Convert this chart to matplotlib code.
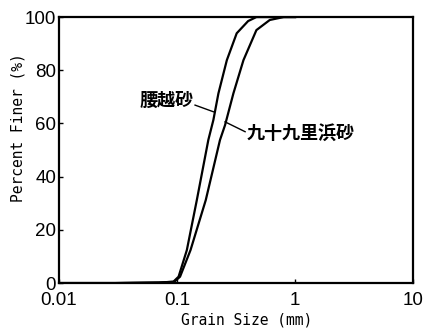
import matplotlib
matplotlib.use('Agg')
from matplotlib import pyplot as plt

# grain size distribution curves
size_koshigoe = [0.01, 0.03, 0.07, 0.093, 0.103, 0.121, 0.147, 0.184, 0.203,
                 0.224, 0.264, 0.32, 0.40, 0.47, 0.6, 1.0]
pct_koshigoe = [0, 0, 0.2, 0.5, 2.4, 12.4, 31.2, 53.8, 61.3,
                71.3, 83.8, 93.9, 98.5, 100, 100, 100]

size_kujukuri = [0.01, 0.03, 0.07, 0.095, 0.106, 0.13, 0.175, 0.231, 0.255,
                 0.30, 0.365, 0.47, 0.61, 0.8, 1.0]
pct_kujukuri = [0, 0, 0.2, 0.5, 2.4, 12.4, 31.2, 53.8, 59.4,
                71.3, 83.8, 95.1, 98.9, 100, 100]

x_ticks = [0.01, 0.1, 1, 10]
x_ticklabels = ['0.01', '0.1', '1', '10']
y_ticks = [0, 20, 40, 60, 80, 100]

label_koshigoe = '腰越砂'
label_kujukuri = '九十九里浜砂'

fig = plt.figure(figsize=(4.34, 3.28), dpi=100)
ax = fig.add_axes([0.136, 0.137, 0.816, 0.811])

ax.plot(size_koshigoe, pct_koshigoe, color='black', lw=1.6)
ax.plot(size_kujukuri, pct_kujukuri, color='black', lw=1.6)

ax.set_xscale('log')
ax.set_xlim(0.01, 10)
ax.set_ylim(0, 100)
ax.set_xticks(x_ticks)
ax.set_xticklabels(x_ticklabels)
ax.set_yticks(y_ticks)
ax.minorticks_off()
ax.tick_params(direction='in', length=3, width=1, labelsize=13.5, pad=2)
ax.tick_params(axis='x', pad=6.5)
for lab in ax.get_xticklabels() + ax.get_yticklabels():
    lab.set_fontfamily('Liberation Sans')
for sp in ax.spines.values():
    sp.set_linewidth(1.6)

ax.set_xlabel('Grain Size (mm)', family='DejaVu Sans Mono', fontsize=10.5)
ax.xaxis.set_label_coords(0.531, -0.11)
ax.set_ylabel('Percent Finer (%)', family='DejaVu Sans Mono', fontsize=10.5)
ax.yaxis.set_label_coords(-0.096, 0.586)

cjk = ['Noto Sans CJK JP', 'DejaVu Sans']
ax.text(0.137, 68.8, label_koshigoe, family=cjk, fontsize=13, weight='bold',
        ha='right', va='center')
ax.plot([0.142, 0.203], [66.9, 64.4], color='black', lw=1)
ax.text(0.385, 56.4, label_kujukuri, family=cjk, fontsize=13, weight='bold',
        ha='left', va='center')
ax.plot([0.255, 0.377], [60.6, 56.9], color='black', lw=1)

fig.savefig('out.png', dpi=100)
